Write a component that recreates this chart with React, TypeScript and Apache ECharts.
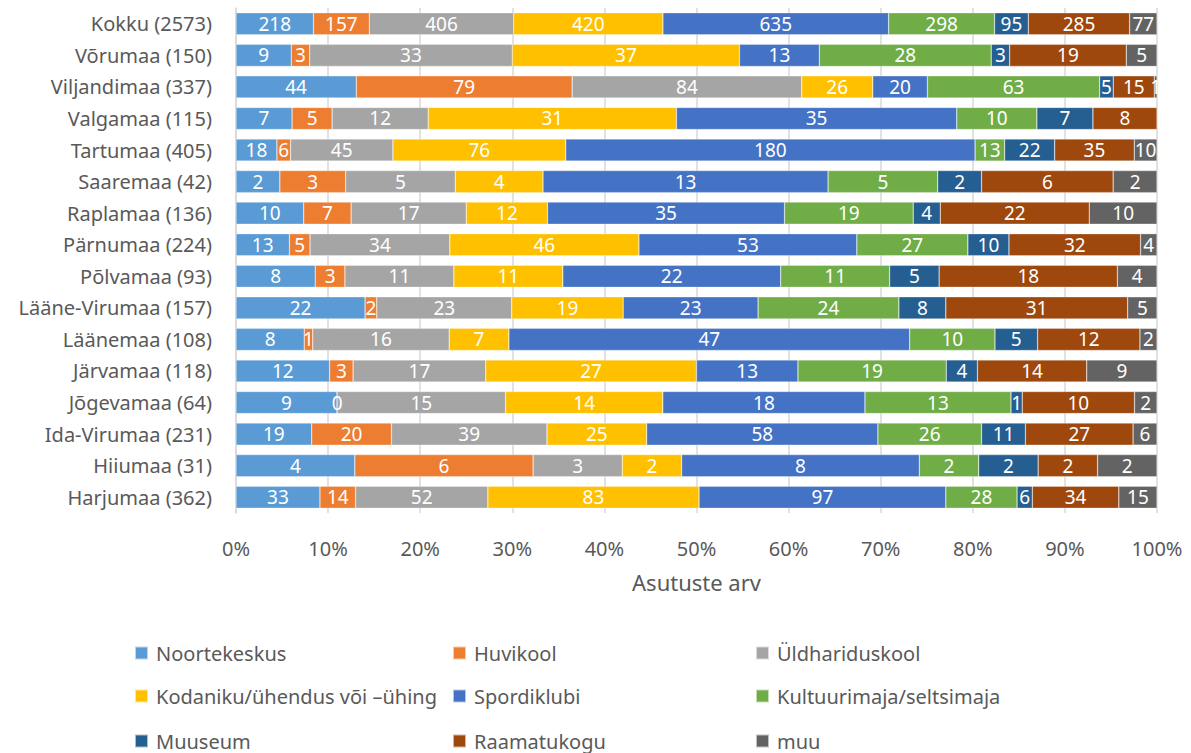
import React, { useEffect, useRef } from "react";
import * as echarts from "echarts";

const categories = [
  "Kokku (2573)", "Võrumaa (150)", "Viljandimaa (337)", "Valgamaa (115)", "Tartumaa (405)",
  "Saaremaa (42)", "Raplamaa (136)", "Pärnumaa (224)", "Põlvamaa (93)", "Lääne-Virumaa (157)",
  "Läänemaa (108)", "Järvamaa (118)", "Jõgevamaa (64)", "Ida-Virumaa (231)", "Hiiumaa (31)", "Harjumaa (362)",
];

const seriesNames = [
  "Noortekeskus", "Huvikool", "Üldhariduskool", "Kodaniku/ühendus või –ühing",
  "Spordiklubi", "Kultuurimaja/seltsimaja", "Muuseum", "Raamatukogu", "muu",
];

const noortekeskus = [218, 9, 44, 7, 18, 2, 10, 13, 8, 22, 8, 12, 9, 19, 4, 33];
const huvikool = [157, 3, 79, 5, 6, 3, 7, 5, 3, 2, 1, 3, 0, 20, 6, 14];
const yldhariduskool = [406, 33, 84, 12, 45, 5, 17, 34, 11, 23, 16, 17, 15, 39, 3, 52];
const kodaniku = [420, 37, 26, 31, 76, 4, 12, 46, 11, 19, 7, 27, 14, 25, 2, 83];
const spordiklubi = [635, 13, 20, 35, 180, 13, 35, 53, 22, 23, 47, 13, 18, 58, 8, 97];
const kultuur = [298, 28, 63, 10, 13, 5, 19, 27, 11, 24, 10, 19, 13, 26, 2, 28];
const muuseum = [95, 3, 5, 7, 22, 2, 4, 10, 5, 8, 5, 4, 1, 11, 2, 6];
const raamatukogu = [285, 19, 15, 8, 35, 6, 22, 32, 18, 31, 12, 14, 10, 27, 2, 34];
const muu: (number | null)[] = [77, 5, 1, null, 10, 2, 10, 4, 4, 5, 2, 9, 2, 6, 2, 15];

const allSeries = [noortekeskus, huvikool, yldhariduskool, kodaniku, spordiklubi, kultuur, muuseum, raamatukogu, muu];

const colors = ["#5B9BD5", "#ED7D31", "#A5A5A5", "#FFC000", "#4472C4", "#70AD47", "#255E91", "#9E480E", "#636363"];

const xTicks = [0, 10, 20, 30, 40, 50, 60, 70, 80, 90, 100];

const FONT = "'Noto Sans', 'Open Sans', sans-serif";

export default function App() {
  const ref = useRef<HTMLDivElement>(null);
  useEffect(() => {
    if (!ref.current) return;
    const chart = echarts.init(ref.current, null, { renderer: "svg" });
    const totals = categories.map((_, i) =>
      allSeries.reduce((s, arr) => s + ((arr[i] as number) || 0), 0)
    );
    const series = allSeries.map((arr, si) => ({
      name: seriesNames[si],
      type: "bar",
      stack: "total",
      barWidth: "70%",
      itemStyle: { color: colors[si], borderColor: "rgba(255,255,255,0.6)", borderWidth: 0.5 },
      label: {
        show: true,
        position: "inside",
        color: "#ffffff",
        fontSize: 19,
        fontFamily: FONT,
        formatter: (p: any) => (p.data && p.data.raw != null ? String(p.data.raw) : ""),
      },
      data: arr.map((v, i) => (v == null ? { value: null, raw: null } : { value: (v / totals[i]) * 100, raw: v })),
    }));
    // legend layout: 3 columns x 3 rows
    const legendCols = [134, 452, 755];
    const legendRows = [643, 686, 731];
    const legendOrder = [
      [0, 1, 2],
      [3, 4, 5],
      [6, 7, 8],
    ];
    const legends: any[] = [];
    legendOrder.forEach((row, ri) =>
      row.forEach((si, ci) => {
        legends.push({
          left: legendCols[ci],
          top: legendRows[ri],
          itemWidth: 13,
          itemHeight: 13,
          icon: "rect",
          padding: 0,
          textStyle: { fontSize: 20, color: "#595959", fontFamily: FONT, padding: [0, 0, 0, 3] },
          data: [seriesNames[si]],
        });
      })
    );
    chart.setOption({
      animation: false,
      color: colors,
      textStyle: { fontFamily: FONT },
      grid: { left: 236, right: 34, top: 8, bottom: 240, containLabel: false },
      xAxis: {
        type: "value",
        min: xTicks[0],
        max: xTicks[xTicks.length - 1],
        interval: 10,
        name: "Asutuste arv",
        nameLocation: "middle",
        nameGap: 58,
        nameTextStyle: { fontSize: 22, color: "#595959", fontFamily: FONT },
        axisLine: { show: false },
        axisTick: { show: false },
        axisLabel: { formatter: "{value}%", fontSize: 20, color: "#595959", margin: 25, fontFamily: FONT },
        splitLine: { show: true, lineStyle: { color: "#d9d9d9", width: 1.5 } },
      },
      yAxis: {
        type: "category",
        inverse: true,
        data: categories,
        axisLine: { show: true, lineStyle: { color: "#d9d9d9", width: 1.5 } },
        axisTick: { show: false },
        axisLabel: { fontSize: 20, color: "#595959", margin: 24, fontFamily: FONT },
      },
      legend: legends,
      series,
    });
    return () => chart.dispose();
  }, []);
  return <div ref={ref} style={{ position: "absolute", left: 0, top: 0, width: 1191, height: 753 }} />;
}
